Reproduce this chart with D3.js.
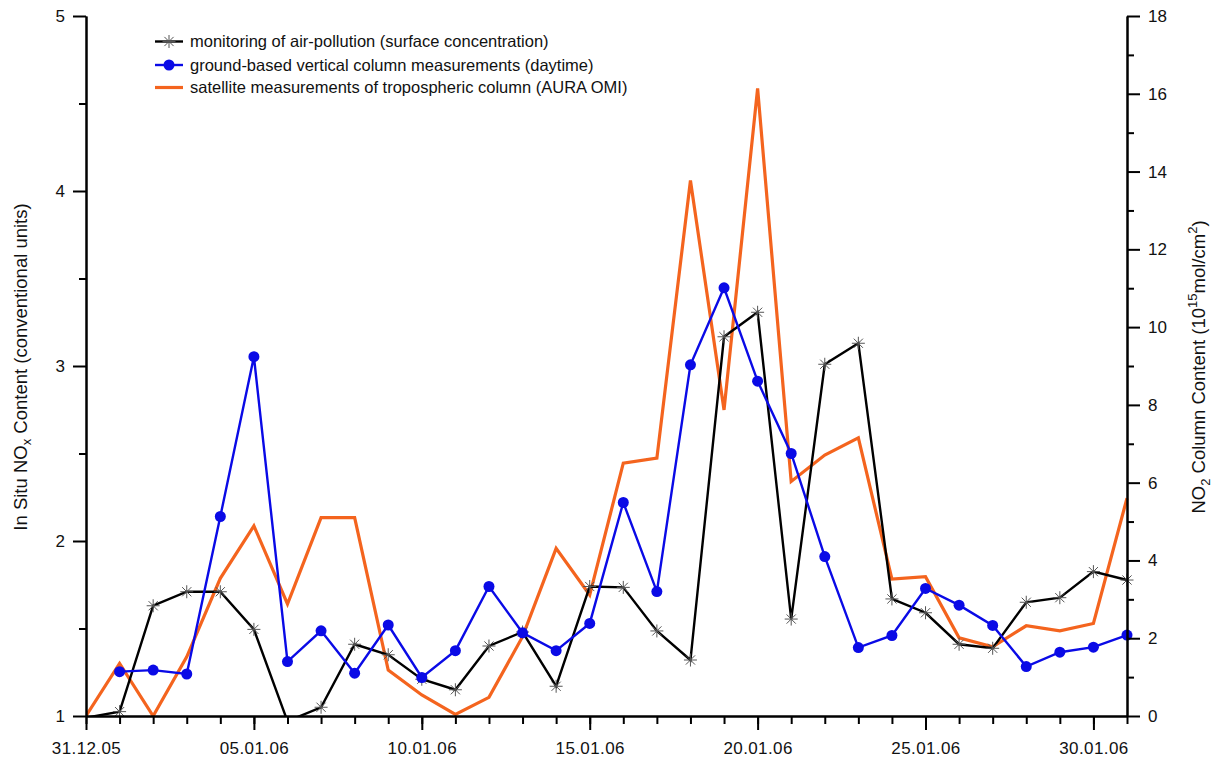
<!DOCTYPE html>
<html>
<head>
<meta charset="utf-8">
<script src="https://cdn.jsdelivr.net/npm/d3@7"></script>
<style>
  html, body { margin: 0; padding: 0; background: #fff; }
  svg { display: block; }
  text { font-family: "Liberation Sans", Arial, Helvetica, sans-serif; fill: #111; }
</style>
</head>
<body>
<svg id="chart" width="1218" height="764"></svg>
<script>
// ---------------- DATA ----------------
const dates = ["2005-12-31","2006-01-01","2006-01-02","2006-01-03","2006-01-04","2006-01-05","2006-01-06","2006-01-07",
  "2006-01-08","2006-01-09","2006-01-10","2006-01-11","2006-01-12","2006-01-13","2006-01-14","2006-01-15",
  "2006-01-16","2006-01-17","2006-01-18","2006-01-19","2006-01-20","2006-01-21","2006-01-22","2006-01-23",
  "2006-01-24","2006-01-25","2006-01-26","2006-01-27","2006-01-28","2006-01-29","2006-01-30","2006-01-31"];

// In situ NOx (left axis, conventional units)
const inSitu = [0.99, 1.025, 1.63, 1.71, 1.71, 1.495, 0.97, 1.05,
  1.41, 1.35, 1.21, 1.15, 1.40, 1.48, 1.17, 1.74,
  1.735, 1.486, 1.32, 3.167, 3.307, 1.554, 3.01, 3.13,
  1.669, 1.59, 1.41, 1.387, 1.65, 1.676, 1.825, 1.777];

// Ground-based vertical column NO2 (right axis, 1e15 mol/cm2); null = no measurement
const groundBased = [null, 1.14, 1.18, 1.08, 5.13, 9.24, 1.40, 2.19,
  1.10, 2.34, 0.99, 1.68, 3.33, 2.14, 1.68, 2.38,
  5.49, 3.20, 9.03, 11.01, 8.61, 6.75, 4.10, 1.76,
  2.07, 3.28, 2.85, 2.33, 1.27, 1.64, 1.77, 2.08];

// Satellite tropospheric column NO2, AURA OMI (right axis)
const satellite = [0.0, 1.35, 0.0, 1.52, 3.54, 4.89, 2.88, 5.10,
  5.10, 1.18, 0.54, 0.04, 0.48, 2.04, 4.31, 3.11,
  6.50, 6.63, 13.77, 7.87, 16.14, 6.03, 6.71, 7.15,
  3.52, 3.58, 2.01, 1.78, 2.32, 2.19, 2.38, 5.60];

const leftTicks = [1, 2, 3, 4, 5];
const rightTicks = [0, 2, 4, 6, 8, 10, 12, 14, 16, 18];
const xTickLabels = ["2005-12-31","2006-01-05","2006-01-10","2006-01-15","2006-01-20","2006-01-25","2006-01-30"];

const legendLabels = [
  "monitoring of air-pollution (surface concentration)",
  "ground-based vertical column measurements (daytime)",
  "satellite measurements of tropospheric column (AURA OMI)"
];

// ---------------- LAYOUT ----------------
const parse = d3.timeParse("%Y-%m-%d");
const X0 = 86, X1 = 1127, Y0 = 716, Y1 = 16;
const cBlack = "#000000", cBlue = "#0a0ae6", cOrange = "#f4641e";

const svg = d3.select("#chart");

const x = d3.scaleTime().domain([parse(dates[0]), parse(dates[dates.length - 1])]).range([X0, X1]);
const yL = d3.scaleLinear().domain([1, 5]).range([Y0, Y1]);
const yR = d3.scaleLinear().domain([0, 18]).range([Y0, Y1]);

const pts = (arr) => dates.map((d, i) => ({ t: parse(d), v: arr[i] }));

// clip
svg.append("defs").append("clipPath").attr("id", "plotclip")
  .append("rect").attr("x", X0).attr("y", Y1 - 5).attr("width", X1 - X0 + 10).attr("height", Y0 - Y1 + 6);

const plot = svg.append("g").attr("clip-path", "url(#plotclip)");

const lineR = d3.line().defined(d => d.v != null).x(d => x(d.t)).y(d => yR(d.v));
const lineL = d3.line().defined(d => d.v != null).x(d => x(d.t)).y(d => yL(d.v));

// satellite (orange)
plot.append("path").datum(pts(satellite)).attr("d", lineR)
  .attr("fill", "none").attr("stroke", cOrange).attr("stroke-width", 3.2).attr("stroke-linejoin", "miter");

// in situ (black with asterisks)
plot.append("path").datum(pts(inSitu)).attr("d", lineL)
  .attr("fill", "none").attr("stroke", cBlack).attr("stroke-width", 2.4);

function asterisk(g, cx, cy, r) {
  [0, 45, 90, 135].forEach(deg => {
    const rad = deg * Math.PI / 180;
    g.append("line")
      .attr("x1", cx - r * Math.cos(rad)).attr("y1", cy - r * Math.sin(rad))
      .attr("x2", cx + r * Math.cos(rad)).attr("y2", cy + r * Math.sin(rad))
      .attr("stroke", "#555").attr("stroke-width", 1);
  });
}
const starG = plot.append("g");
pts(inSitu).filter(d => d.v >= 1).forEach(d => asterisk(starG, x(d.t), yL(d.v), 6.5));

// ground based (blue with dots)
plot.append("path").datum(pts(groundBased)).attr("d", lineR)
  .attr("fill", "none").attr("stroke", cBlue).attr("stroke-width", 2.4);
plot.append("g").selectAll("circle").data(pts(groundBased).filter(d => d.v != null)).join("circle")
  .attr("cx", d => x(d.t)).attr("cy", d => yR(d.v)).attr("r", 5.5).attr("fill", cBlue);

// ---------------- AXES ----------------
function styleAxis(g) {
  g.selectAll("path.domain").attr("stroke", "#000").attr("stroke-width", 2);
  g.selectAll(".tick line").attr("stroke", "#000").attr("stroke-width", 2);
  g.selectAll(".tick text").style("font-size", "17px").attr("fill", "#111");
}

const allDays = dates.map(parse);
const majorDays = xTickLabels.map(parse);
svg.append("g").attr("transform", `translate(0,${Y0})`)
  .call(d3.axisBottom(x).tickValues(allDays).tickSize(8).tickSizeOuter(0).tickFormat(""))
  .call(styleAxis);
svg.append("g").attr("transform", `translate(0,${Y0})`)
  .call(d3.axisBottom(x).tickValues(majorDays).tickSize(14).tickSizeOuter(0).tickPadding(12)
    .tickFormat(d3.timeFormat("%d.%m.%y")))
  .call(styleAxis)
  .call(g => g.selectAll(".tick text").style("letter-spacing", "0.4px"));

// left
const leftMinor = d3.range(1.5, 5, 1);
svg.append("g").attr("transform", `translate(${X0},0)`)
  .call(d3.axisLeft(yL).tickValues(leftMinor).tickSize(7).tickSizeOuter(0).tickFormat(""))
  .call(styleAxis);
svg.append("g").attr("transform", `translate(${X0},0)`)
  .call(d3.axisLeft(yL).tickValues(leftTicks).tickSize(13).tickSizeOuter(0).tickPadding(8).tickFormat(d3.format("d")))
  .call(styleAxis);

// right
const rightMinor = d3.range(1, 18, 2);
svg.append("g").attr("transform", `translate(${X1},0)`)
  .call(d3.axisRight(yR).tickValues(rightMinor).tickSize(7).tickSizeOuter(0).tickFormat(""))
  .call(styleAxis);
svg.append("g").attr("transform", `translate(${X1},0)`)
  .call(d3.axisRight(yR).tickValues(rightTicks).tickSize(13).tickSizeOuter(0).tickPadding(8).tickFormat(d3.format("d")))
  .call(styleAxis);

// axis titles
const lt = svg.append("text").attr("transform", `translate(27,${(Y0 + Y1) / 2 + 1}) rotate(-90)`)
  .attr("text-anchor", "middle").style("font-size", "18.5px");
lt.append("tspan").text("In Situ NO");
lt.append("tspan").text("x").attr("dy", 4).style("font-size", "13px");
lt.append("tspan").text(" Content (conventional units)").attr("dy", -4);

const rt = svg.append("text").attr("transform", `translate(1205,${(Y0 + Y1) / 2 + 1}) rotate(-90)`)
  .attr("text-anchor", "middle").style("font-size", "18.5px");
rt.append("tspan").text("NO");
rt.append("tspan").text("2").attr("dy", 5).style("font-size", "13px");
rt.append("tspan").text(" Column Content (10").attr("dy", -5);
rt.append("tspan").text("15").attr("dy", -8).style("font-size", "13px");
rt.append("tspan").text("mol/cm").attr("dy", 8);
rt.append("tspan").text("2").attr("dy", -8).style("font-size", "13px");
rt.append("tspan").text(")").attr("dy", 8);

// ---------------- LEGEND ----------------
const legY = [41.5, 65, 87.5];
const leg = svg.append("g");
const legColors = [cBlack, cBlue, cOrange];
const legWidths = [2.4, 2.4, 3.2];
legendLabels.forEach((lab, i) => {
  leg.append("line").attr("x1", 155).attr("x2", 183).attr("y1", legY[i]).attr("y2", legY[i])
    .attr("stroke", legColors[i]).attr("stroke-width", legWidths[i]);
  if (i === 0) asterisk(leg, 169, legY[i], 6.5);
  if (i === 1) leg.append("circle").attr("cx", 169).attr("cy", legY[i]).attr("r", 5.5).attr("fill", cBlue);
  leg.append("text").attr("x", 190).attr("y", legY[i] + 5.5).text(lab).style("font-size", "16.5px");
});
</script>
</body>
</html>
